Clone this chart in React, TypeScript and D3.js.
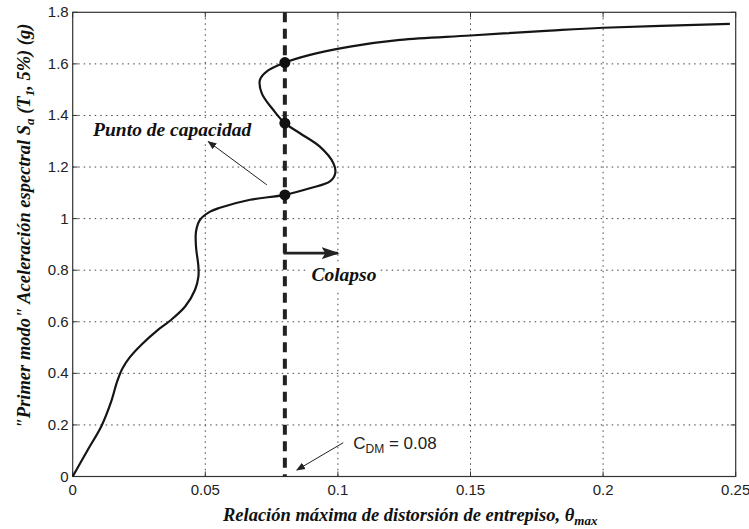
import React from "react";
import * as d3 from "d3";

// Curve data: inter-story drift ratio (theta_max) vs spectral acceleration Sa (g)
const thetaValues = [
  0, 0.0055, 0.0109, 0.0145, 0.0168, 0.0188, 0.0215, 0.026, 0.0317, 0.0367, 0.0424,
  0.0461, 0.0474, 0.0474, 0.0465, 0.0465, 0.048, 0.0518, 0.0555, 0.0669, 0.08,
  0.0895, 0.097, 0.099, 0.0983, 0.0932, 0.0857, 0.08, 0.0756, 0.0713, 0.0706,
  0.0731, 0.08, 0.0895, 0.1046, 0.1234, 0.15, 0.18, 0.2, 0.2478,
];
const saValues = [
  0, 0.1, 0.197, 0.29, 0.37, 0.42, 0.462, 0.512, 0.565, 0.604, 0.659,
  0.723, 0.775, 0.814, 0.891, 0.95, 0.995, 1.027, 1.042, 1.073, 1.092,
  1.118, 1.144, 1.176, 1.215, 1.279, 1.331, 1.37, 1.422, 1.486, 1.538,
  1.57, 1.605, 1.635, 1.667, 1.693, 1.71, 1.729, 1.74, 1.755,
];
// Capacity points on the C_DM line
const capacitySa = [1.092, 1.37, 1.605];
const cdm = 0.08;

const xTicks = [0, 0.05, 0.1, 0.15, 0.2, 0.25];
const xTickLabels = ["0", "0.05", "0.1", "0.15", "0.2", "0.25"];
const yTicks = [0, 0.2, 0.4, 0.6, 0.8, 1, 1.2, 1.4, 1.6, 1.8];
const yTickLabels = ["0", "0.2", "0.4", "0.6", "0.8", "1", "1.2", "1.4", "1.6", "1.8"];

const W = 749;
const H = 529;
const L = 72.7, R = 735.7, T = 12.3, B = 476.5;

const SERIF = "'Liberation Serif', 'Times New Roman', serif";
const SANS = "'Liberation Sans', Arial, sans-serif";

export default function App() {
  const x = d3.scaleLinear().domain([0, 0.25]).range([L, R]);
  const y = d3.scaleLinear().domain([0, 1.8]).range([B, T]);

  const pts: [number, number][] = thetaValues.map((t, i) => [t, saValues[i]]);
  const line = d3
    .line<[number, number]>()
    .x((d) => x(d[0]))
    .y((d) => y(d[1]))
    .curve(d3.curveCatmullRom.alpha(0.5));

  const tickLen = 5;

  return (
    <svg
      width={W}
      height={H}
      style={{ position: "absolute", left: 0, top: 0, background: "#fff" }}
    >
      <defs>
        <marker id="thinHead" viewBox="0 0 10 10" refX="9" refY="5" markerWidth="9" markerHeight="9" orient="auto" markerUnits="userSpaceOnUse">
          <path d="M0,1 L10,5 L0,9 z" fill="#222" />
        </marker>
        <marker id="boldHead" viewBox="0 0 10 10" refX="9" refY="5" markerWidth="18" markerHeight="12" orient="auto" markerUnits="userSpaceOnUse" preserveAspectRatio="none">
          <path d="M0,0 L10,5 L0,10 L2,5 z" fill="#222" />
        </marker>
      </defs>
      <rect x={0} y={0} width={W} height={H} fill="#fff" />

      {/* grid */}
      {xTicks.slice(1, -1).map((t) => (
        <line key={"gx" + t} x1={x(t)} x2={x(t)} y1={T} y2={B} stroke="#444" strokeWidth={1} strokeDasharray="1.5,4" />
      ))}
      {yTicks.slice(1, -1).map((t) => (
        <line key={"gy" + t} x1={L} x2={R} y1={y(t)} y2={y(t)} stroke="#444" strokeWidth={1} strokeDasharray="1.5,4" />
      ))}

      {/* ticks inside on all four sides */}
      {xTicks.map((t) => (
        <g key={"tx" + t}>
          <line x1={x(t)} x2={x(t)} y1={B} y2={B - tickLen} stroke="#333" />
          <line x1={x(t)} x2={x(t)} y1={T} y2={T + tickLen} stroke="#333" />
        </g>
      ))}
      {yTicks.map((t) => (
        <g key={"ty" + t}>
          <line x1={L} x2={L + tickLen} y1={y(t)} y2={y(t)} stroke="#333" />
          <line x1={R} x2={R - tickLen} y1={y(t)} y2={y(t)} stroke="#333" />
        </g>
      ))}

      {/* frame */}
      <rect x={L} y={T} width={R - L} height={B - T} fill="none" stroke="#333" strokeWidth={1.2} />

      {/* tick labels */}
      {xTicks.map((t, i) => (
        <text key={"lx" + t} x={x(t)} y={B + 18} textAnchor="middle" fontFamily={SANS} fontSize={15} fill="#222">
          {xTickLabels[i]}
        </text>
      ))}
      {yTicks.map((t, i) => (
        <text key={"ly" + t} x={L - 4} y={y(t) + 5} textAnchor="end" fontFamily={SANS} fontSize={15} fill="#222">
          {yTickLabels[i]}
        </text>
      ))}

      {/* text boxes with white background */}
      <rect x={x(0.0072)} y={y(1.39)} width={166} height={26} fill="#fff" />
      <text x={x(0.0077)} y={y(1.321)} fontFamily={SERIF} fontSize={19.5} fontWeight="bold" fontStyle="italic" fill="#111">
        Punto de capacidad
      </text>
      <rect x={x(0.088)} y={y(0.82)} width={72} height={24} fill="#fff" />
      <text x={x(0.09)} y={y(0.76)} fontFamily={SERIF} fontSize={19.5} fontWeight="bold" fontStyle="italic" fill="#111">
        Colapso
      </text>

      {/* C_DM dashed line */}
      <line x1={x(cdm)} x2={x(cdm)} y1={T} y2={B} stroke="#222" strokeWidth={4} strokeDasharray="10,6.5" />

      {/* curve */}
      <path d={line(pts) || ""} fill="none" stroke="#151515" strokeWidth={2.2} strokeLinejoin="round" />

      {/* capacity dots */}
      {capacitySa.map((s) => (
        <circle key={"c" + s} cx={x(cdm)} cy={y(s)} r={5.5} fill="#111" />
      ))}

      {/* Punto de capacidad arrow */}
      <line x1={x(0.0732)} y1={y(1.131)} x2={x(0.0511)} y2={y(1.299)} stroke="#222" strokeWidth={1} markerEnd="url(#thinHead)" />

      {/* Colapso arrow */}
      <path
        d={`M${x(cdm)},${y(0.9)} L${x(cdm)},${y(0.866)} L${x(0.1)},${y(0.866)}`}
        fill="none"
        stroke="#222"
        strokeWidth={2.8}
        markerEnd="url(#boldHead)"
      />

      {/* C_DM annotation */}
      <line x1={x(0.102)} y1={y(0.131)} x2={x(0.0845)} y2={y(0.025)} stroke="#222" strokeWidth={1} markerEnd="url(#thinHead)" />
      <text x={x(0.1058)} y={y(0.107)} fontFamily={SANS} fontSize={17} fill="#222">
        C
        <tspan fontSize={12} dy={4}>DM</tspan>
        <tspan dy={-4}> = 0.08</tspan>
      </text>

      {/* axis titles */}
      <text x={(L + R) / 2 + 6} y={521} textAnchor="middle" fontFamily={SERIF} fontSize={18.5} fontWeight="bold" fontStyle="italic" fill="#111">
        Relación máxima de distorsión de entrepiso, θ
        <tspan fontSize={13} dy={4}>max</tspan>
      </text>
      <text
        transform={`translate(30, 226) rotate(-90)`}
        textAnchor="middle"
        fontFamily={SERIF}
        fontSize={18.5}
        fontWeight="bold"
        fontStyle="italic"
        fill="#111"
      >
        "Primer modo" Aceleración espectral S
        <tspan fontSize={13} dy={4}>a</tspan>
        <tspan dy={-4}> (T</tspan>
        <tspan fontSize={13} dy={4}>1</tspan>
        <tspan dy={-4}>, 5%) (g)</tspan>
      </text>
    </svg>
  );
}
